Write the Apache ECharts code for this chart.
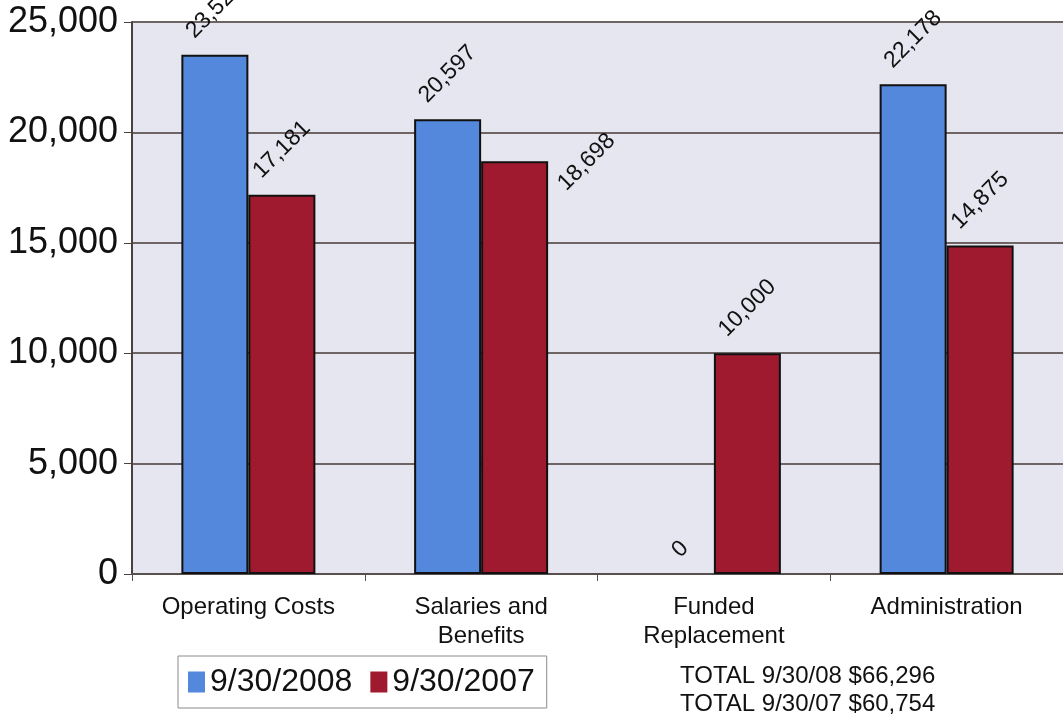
<!DOCTYPE html>
<html>
<head>
<meta charset="utf-8">
<script src="https://cdn.jsdelivr.net/npm/echarts@6/dist/echarts.min.js"></script>
<style>
  html, body { margin: 0; padding: 0; background: #fff; }
  #chart { width: 1063px; height: 719px; }
</style>
</head>
<body>
<div id="chart"></div>
<script>
const categories = ['Operating Costs', 'Salaries and\nBenefits', 'Funded\nReplacement', 'Administration']
const values2008 = [23521, 20597, 0, 22178]
const values2007 = [17181, 18698, 10000, 14875]
const seriesNames = ['9/30/2008', '9/30/2007']
const totals = ['TOTAL 9/30/08 $66,296', 'TOTAL 9/30/07 $60,754']
const yTicks = { min: 0, max: 25000, interval: 5000 }

const FONT = '"Liberation Sans", Arial, sans-serif'

function fmt (v) {
  return v.toLocaleString('en-US')
}

const chart = echarts.init(document.getElementById('chart'))

// labels sit above the bar, rotated box centred on the bar
function barLabelLayout (p) {
  const top = Math.min(p.rect.y, p.rect.y + p.rect.height)
  let x = p.rect.x + p.rect.width / 2
  let y = top - 12 - p.labelRect.height / 2
  // the 18,698 label was pushed to the right of its bar in the original
  if (p.seriesIndex === 1 && p.dataIndex === 1) {
    x += 72
    y += 46
  }
  return { x: x, y: y }
}

const labelStyle = {
  show: true,
  position: 'top',
  rotate: 45,
  align: 'center',
  verticalAlign: 'middle',
  fontFamily: FONT,
  fontSize: 23,
  color: '#111',
  formatter: function (p) { return fmt(p.value) }
}

// a zero bar has no visible outline
function barData (arr) {
  return arr.map(function (v) {
    return v === 0 ? { value: v, itemStyle: { borderWidth: 0 } } : v
  })
}

const option = {
  backgroundColor: '#fff',
  animation: false,
  textStyle: { fontFamily: FONT },
  grid: {
    left: 132,
    right: -5,
    top: 22,
    bottom: 145,
    show: true,
    backgroundColor: '#e6e6f0',
    borderWidth: 0
  },
  legend: {
    left: 178,
    top: 656,
    data: seriesNames,
    orient: 'horizontal',
    backgroundColor: '#fff',
    borderColor: '#8a8a8a',
    borderWidth: 1,
    padding: [10, 12, 10, 10],
    itemWidth: 17,
    itemHeight: 21,
    itemGap: 18,
    icon: 'rect',
    itemStyle: { borderWidth: 0 },
    textStyle: { fontFamily: FONT, fontSize: 32, color: '#111', padding: [0, 0, 0, 0] }
  },
  xAxis: {
    type: 'category',
    data: categories,
    axisLine: { show: true, lineStyle: { color: '#5a4f4f', width: 2 } },
    axisTick: { show: true, length: 7, lineStyle: { color: '#5a4f4f', width: 1 } },
    axisLabel: {
      fontFamily: FONT,
      fontSize: 24,
      lineHeight: 29,
      color: '#111',
      margin: 19
    }
  },
  yAxis: {
    type: 'value',
    min: yTicks.min,
    max: yTicks.max,
    interval: yTicks.interval,
    axisLine: { show: true, lineStyle: { color: '#4a4040', width: 2 } },
    axisTick: { show: true, length: 8, lineStyle: { color: '#4a4040', width: 1 } },
    splitLine: { show: true, lineStyle: { color: '#6e6464', width: 2 } },
    axisLabel: {
      fontFamily: FONT,
      fontSize: 36,
      color: '#111',
      margin: 14,
      formatter: function (v) { return fmt(v) }
    }
  },
  series: [
    {
      name: seriesNames[0],
      type: 'bar',
      data: barData(values2008),
      barWidth: 67,
      barGap: '0%',
      itemStyle: { color: '#5388dc', borderColor: '#111', borderWidth: 2 },
      label: labelStyle,
      labelLayout: barLabelLayout
    },
    {
      name: seriesNames[1],
      type: 'bar',
      data: barData(values2007),
      barWidth: 67,
      barGap: '0%',
      itemStyle: { color: '#a01a2f', borderColor: '#111', borderWidth: 2 },
      label: labelStyle,
      labelLayout: barLabelLayout
    }
  ],
  graphic: totals.map(function (t, i) {
    return {
      type: 'text',
      left: 680,
      top: 664 + i * 28,
      style: { text: t, fontFamily: FONT, fontSize: 24, fill: '#111' }
    }
  })
}

chart.setOption(option)
</script>
</body>
</html>
